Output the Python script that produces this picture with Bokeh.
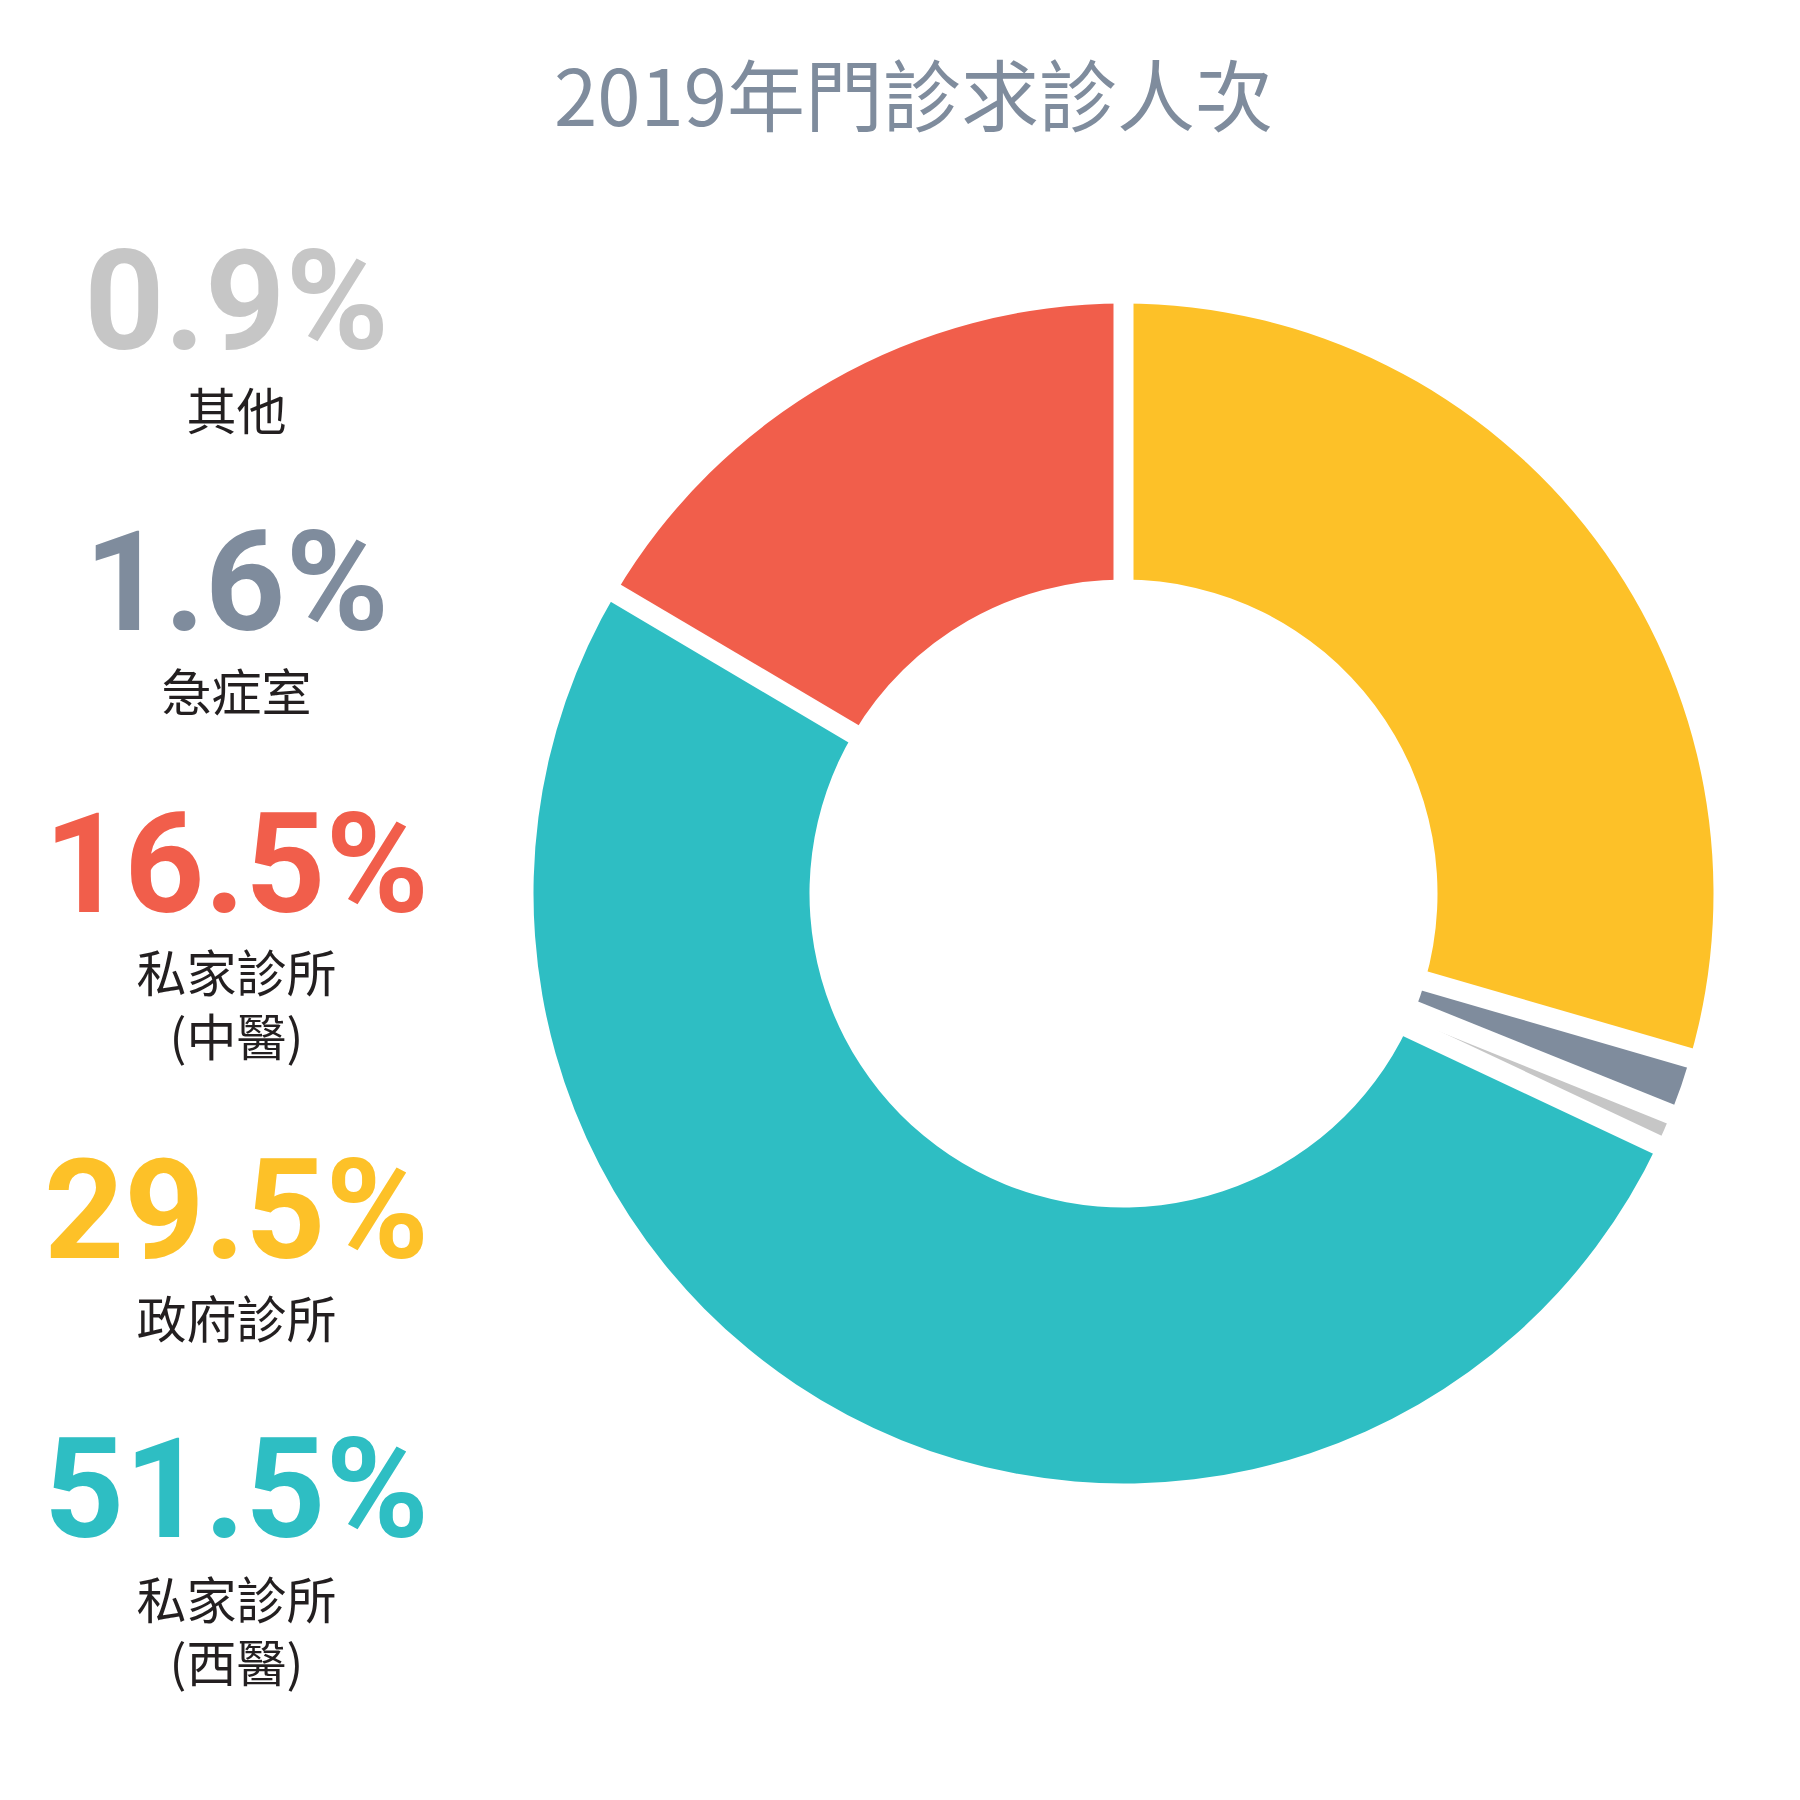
import math
from bokeh.plotting import figure
from bokeh.models import Range1d
from bokeh.core.properties import value
from bokeh.embed import file_html
from bokeh.resources import INLINE

# ---- data (clockwise from 12 o'clock) ----
categories = ["政府診所", "急症室", "其他", "私家診所(西醫)", "私家診所(中醫)"]
shares = [29.5, 1.6, 0.9, 51.5, 16.5]
colors = ["#FDC128", "#7F8C9D", "#C6C6C6", "#2EBEC3", "#F15E4B"]

# legend order on the left (top to bottom)
legend_order = [2, 1, 4, 0, 3]
legend_lines = {
    0: ["政府診所"],
    1: ["急症室"],
    2: ["其他"],
    3: ["私家診所", "(西醫)"],
    4: ["私家診所", "(中醫)"],
}
title = "2019年門診求診人次"

W = H = 1800
p = figure(width=W, height=H, output_backend="svg", toolbar_location=None,
           x_range=Range1d(0, W), y_range=Range1d(0, H), min_border=0)
p.axis.visible = False
p.grid.visible = False
p.outline_line_color = None
p.background_fill_color = "white"
p.border_fill_color = "white"

def Y(py):
    return H - py

# ---- donut ----
cx, cy = 1123, Y(893)
r_out, r_in = 590, 314
total = sum(shares)
cum = 0.0
starts, ends = [], []
for s in shares:
    a0 = math.pi / 2 - 2 * math.pi * cum / total
    cum += s
    a1 = math.pi / 2 - 2 * math.pi * cum / total
    starts.append(a0)
    ends.append(a1)

p.annular_wedge(x=[cx] * len(shares), y=[cy] * len(shares),
                inner_radius=r_in, outer_radius=r_out,
                start_angle=starts, end_angle=ends, direction="clock",
                fill_color=colors, line_color=None)

# white separators along each boundary
R = r_out + 20
p.segment(x0=[cx] * len(starts), y0=[cy] * len(starts),
          x1=[cx + R * math.cos(a) for a in starts],
          y1=[cy + R * math.sin(a) for a in starts],
          line_color="white", line_width=20, line_cap="butt")

# ---- title ----
p.text(x=[913], y=[Y(91)], text=[title], text_align="center",
       text_baseline="alphabetic", text_font=value("Noto Sans CJK TC"),
       text_font_size="78px", text_color="#7F8C9D", text_font_style="normal")

# ---- left legend ----
num_fs = 140
num_bottoms = [350, 631, 913, 1259, 1538]
label_centers = [[411], [692], [973, 1037], [1319], [1600, 1663]]
lx = 236
for k, idx in enumerate(legend_order):
    p.text(x=[lx], y=[Y(num_bottoms[k] - 0.356 * num_fs)], text=[f"{shares[idx]}%"],
           text_align="center", text_baseline="alphabetic",
           text_font=value("Roboto"), text_font_style="bold",
           text_font_size=f"{num_fs}px", text_color=colors[idx])
    for line, yc in zip(legend_lines[idx], label_centers[k]):
        p.text(x=[lx], y=[Y(yc - 4)], text=[line], text_align="center",
               text_baseline="middle", text_font=value("Noto Sans CJK TC"),
               text_font_size="50px", text_color="#231F20")

open("out.html", "w").write(file_html(p, INLINE))
